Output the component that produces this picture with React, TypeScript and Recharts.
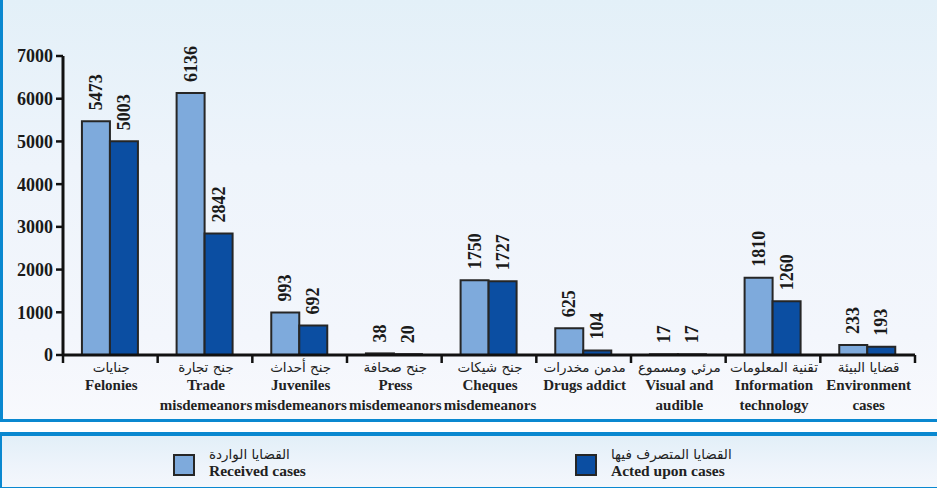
import { Bar, BarChart, LabelList, XAxis, YAxis } from "recharts";

const arabicNames = [
  "جنايات",
  "جنح تجارة",
  "جنح أحداث",
  "جنح صحافة",
  "جنح شيكات",
  "مدمن مخدرات",
  "مرئي ومسموع",
  "تقنية المعلومات",
  "قضايا البيئة",
];
const englishNames = [
  ["Felonies"],
  ["Trade", "misdemeanors"],
  ["Juveniles", "misdemeanors"],
  ["Press", "misdemeanors"],
  ["Cheques", "misdemeanors"],
  ["Drugs addict"],
  ["Visual and", "audible"],
  ["Information", "technology"],
  ["Environment", "cases"],
];
const received = [5473, 6136, 993, 38, 1750, 625, 17, 1810, 233];
const acted = [5003, 2842, 692, 20, 1727, 104, 17, 1260, 193];
const yTicks = [0, 1000, 2000, 3000, 4000, 5000, 6000, 7000];

const LIGHT = "#7eaadc";
const DARK = "#0b4ea2";
const EDGE = "#262626";
const FRAME = "#0a88d0";
const SERIF = "'Liberation Serif', 'Times New Roman', serif";
const ARABIC = "'DejaVu Sans', sans-serif";

const data = arabicNames.map((ar, i) => ({
  key: String(i),
  ar,
  en: englishNames[i],
  received: received[i],
  acted: acted[i],
}));

function CategoryTick(props: any) {
  const { x, y, payload, index } = props;
  const row = data[Number(payload.value)];
  const half = payload.offset || 852 / 18;
  const last = index === data.length - 1;
  return (
    <g>
      <line x1={x - half} x2={x - half} y1={y} y2={y + 8} stroke="#111" strokeWidth={2.5} />
      {last && <line x1={x + half} x2={x + half} y1={y} y2={y + 8} stroke="#111" strokeWidth={2.5} />}
      <text x={x + 1} y={y + 17} textAnchor="middle" fontFamily={ARABIC} fontSize={13.5} fill="#222">
        {row.ar}
      </text>
      {row.en.map((line: string, i: number) => (
        <text
          key={i}
          x={x + 1}
          y={y + 35 + i * 20}
          textAnchor="middle"
          fontFamily={SERIF}
          fontWeight="bold"
          fontSize={15}
          fill="#222"
        >
          {line}
        </text>
      ))}
    </g>
  );
}

function ValueLabel(props: any) {
  const { x, y, width, value } = props;
  const cx = x + width / 2;
  const ty = y - 11;
  return (
    <text
      x={cx}
      y={ty}
      transform={`rotate(-90 ${cx} ${ty})`}
      dominantBaseline="central"
      textAnchor="start"
      fontFamily={SERIF}
      fontWeight="bold"
      fontSize={18}
      fill="#1a1a1a"
    >
      {value}
    </text>
  );
}

function LegendItem({ color, ar, en }: { color: string; ar: string; en: string }) {
  return (
    <div style={{ display: "flex", alignItems: "center" }}>
      <div
        style={{
          width: 18,
          height: 18,
          background: color,
          border: `2.5px solid ${EDGE}`,
          marginRight: 14,
          marginTop: 2,
        }}
      />
      <div style={{ display: "flex", flexDirection: "column", alignItems: "flex-start" }}>
        <div style={{ fontFamily: ARABIC, fontSize: 13.5, color: "#222", lineHeight: "15px" }} dir="rtl">
          {ar}
        </div>
        <div style={{ fontFamily: SERIF, fontWeight: "bold", fontSize: 15.5, color: "#222", lineHeight: "18px" }}>
          {en}
        </div>
      </div>
    </div>
  );
}

export default function App() {
  return (
    <div style={{ position: "absolute", left: 0, top: 0, width: 937, height: 488, background: "#fff" }}>
      <div
        style={{
          position: "absolute",
          left: 0,
          top: 0,
          width: 934,
          height: 419,
          borderLeft: `3px solid ${FRAME}`,
          borderBottom: `3px solid ${FRAME}`,
          background: "linear-gradient(180deg, #e3f0f8 0%, #eef4fb 40%, #f3f6fc 80%, #f8f9fd 100%)",
        }}
      >
        <BarChart
          width={934}
          height={419}
          data={data}
          margin={{ top: 56, right: 22, left: 0, bottom: 0 }}
          barCategoryGap="20%"
          barGap={0}
        >
          <YAxis
            domain={[0, 7000]}
            ticks={yTicks}
            width={60}
            interval={0}
            axisLine={{ stroke: "#111", strokeWidth: 3 }}
            tickLine={{ stroke: "#111", strokeWidth: 2.5 }}
            tickSize={7}
            tickMargin={3}
            tick={{ fontFamily: SERIF, fontWeight: "bold", fontSize: 18, fill: "#1a1a1a" }}
          />
          <XAxis
            dataKey="key"
            height={64}
            interval={0}
            axisLine={{ stroke: "#111", strokeWidth: 3 }}
            tickLine={false}
            tickSize={0}
            tickMargin={0}
            tick={<CategoryTick />}
          />
          <Bar dataKey="received" fill={LIGHT} stroke={EDGE} strokeWidth={2} isAnimationActive={false}>
            <LabelList dataKey="received" content={<ValueLabel />} />
          </Bar>
          <Bar dataKey="acted" fill={DARK} stroke={EDGE} strokeWidth={2} isAnimationActive={false}>
            <LabelList dataKey="acted" content={<ValueLabel />} />
          </Bar>
        </BarChart>
      </div>
      <div
        style={{
          position: "absolute",
          left: 0,
          top: 432,
          width: 935,
          height: 51,
          borderTop: `4px solid ${FRAME}`,
          borderLeft: `2px solid ${FRAME}`,
          borderBottom: `1.5px solid ${FRAME}`,
          background: "linear-gradient(180deg, #e2eff8 0%, #eef4fb 60%, #f4f7fc 100%)",
        }}
      >
        <div style={{ position: "absolute", left: 171, top: 11 }}>
          <LegendItem color={LIGHT} ar="القضايا الواردة" en="Received cases" />
        </div>
        <div style={{ position: "absolute", left: 573, top: 11 }}>
          <LegendItem color={DARK} ar="القضايا المتصرف فيها" en="Acted upon cases" />
        </div>
      </div>
    </div>
  );
}
